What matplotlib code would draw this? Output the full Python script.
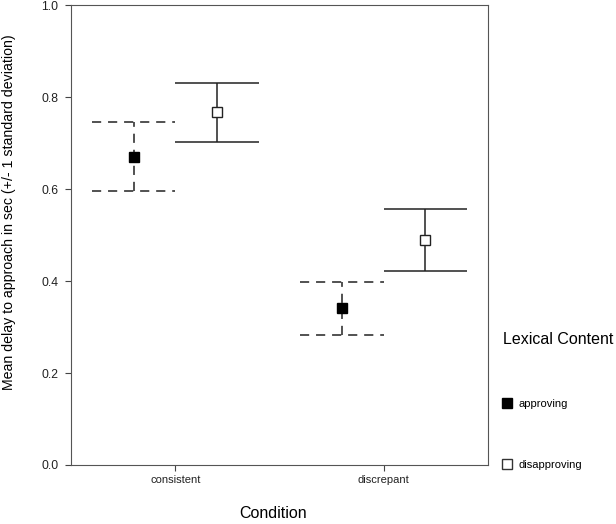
import numpy as np
import matplotlib
matplotlib.use('Agg')
import matplotlib.pyplot as plt
from matplotlib.lines import Line2D

plt.rcParams['font.family'] = ['Liberation Sans', 'DejaVu Sans']

conditions = ['consistent', 'discrepant']
groups = ['approving', 'disapproving']
approving_mean = [0.670, 0.341]
approving_sd = [0.075, 0.058]
disapproving_mean = [0.767, 0.489]
disapproving_sd = [0.064, 0.068]

fig = plt.figure(figsize=(6.16, 5.24), dpi=100)
ax = fig.add_axes([0.1153, 0.1126, 0.6769, 0.8774])

x = np.arange(1, len(conditions) + 1)
offset = 0.2
cap = 0.2
dash = (0, (6, 4.5))
lc = '#222222'

# approving: dashed bars, filled squares
xa = x - offset
ya = np.array(approving_mean)
sa = np.array(approving_sd)
ax.vlines(xa, ya - sa, ya + sa, colors=lc, linestyles=[dash], lw=1.1)
ax.hlines(ya + sa, xa - cap, xa + cap, colors=lc, linestyles=[dash], lw=1.1)
ax.hlines(ya - sa, xa - cap, xa + cap, colors=lc, linestyles=[dash], lw=1.1)
ax.plot(xa, ya, ls='none', marker='s', ms=7.5, mfc='black', mec='black', zorder=5)

# disapproving: solid bars, open squares
xd = x + offset
yd = np.array(disapproving_mean)
sd = np.array(disapproving_sd)
ax.vlines(xd, yd - sd, yd + sd, colors=lc, lw=1.1)
ax.hlines(yd + sd, xd - cap, xd + cap, colors=lc, lw=1.1)
ax.hlines(yd - sd, xd - cap, xd + cap, colors=lc, lw=1.1)
ax.plot(xd, yd, ls='none', marker='s', ms=7.5, mfc='white', mec=lc, mew=1, zorder=5)

ax.set_xlim(0.5, 2.5)
ax.set_ylim(0, 1.0)
ax.set_xticks(x)
ax.set_xticklabels(conditions, fontsize=8)
ax.set_yticks(np.arange(0, 1.01, 0.2))
ax.set_yticklabels([f'{v:.1f}' for v in np.arange(0, 1.01, 0.2)], fontsize=8.8)
ax.tick_params(direction='out', length=4, color='#444444', labelcolor='#222222')
ax.tick_params(axis='y', pad=5)
for s in ax.spines.values():
    s.set_color('#555555')

ax.set_xlabel('Condition', fontsize=11.5)
ax.xaxis.set_label_coords(0.484, -0.089)
ax.set_ylabel('Mean delay to approach in sec (+/- 1 standard deviation)', fontsize=10.2)
ax.yaxis.set_label_coords(-0.133, 0.55)

handles = [
    Line2D([], [], ls='none', marker='s', ms=7.5, mfc='black', mec='black'),
    Line2D([], [], ls='none', marker='s', ms=7.5, mfc='white', mec='#333333'),
]
leg = fig.legend(handles, groups, title='Lexical Content', title_fontsize=11.5, fontsize=8,
                 frameon=False, loc='upper left', bbox_to_anchor=(0.800, 0.385),
                 labelspacing=4.6, handletextpad=0.6, handlelength=0.8, alignment='left')
leg._legend_box.sep = 37

fig.savefig('out.png', dpi=100)
